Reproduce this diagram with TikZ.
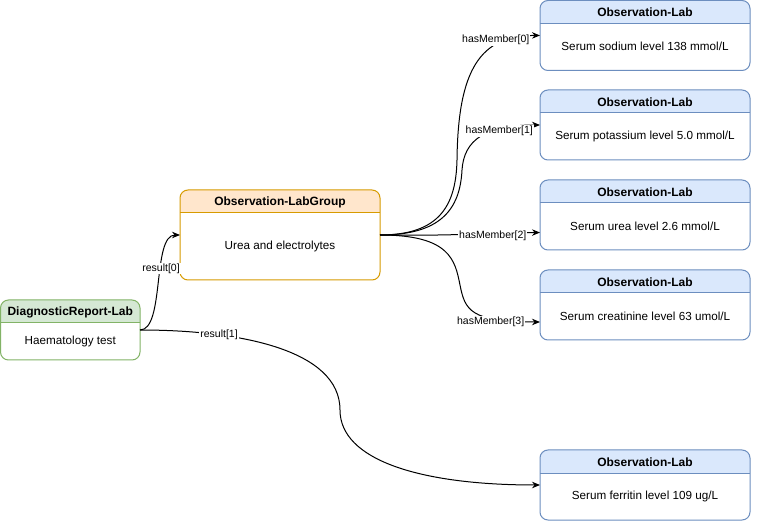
\documentclass[tikz,border=0pt]{standalone}
\usepackage{fontspec}
\setmainfont{Liberation Sans}
\usetikzlibrary{arrows.meta,calc}
\definecolor{grF}{HTML}{D5E8D4}\definecolor{grS}{HTML}{82B366}
\definecolor{orF}{HTML}{FFE6CC}\definecolor{orS}{HTML}{D79B00}
\definecolor{blF}{HTML}{DAE8FC}\definecolor{blS}{HTML}{6C8EBF}
\tikzset{
  boxframe/.style={rectangle,draw=none,inner sep=0pt,outer sep=0pt},
  titletext/.style={font=\bfseries\fontsize{12}{14}\selectfont,inner sep=0pt},
  bodytext/.style={font=\fontsize{11.7}{14}\selectfont,inner sep=0pt},
  lbl/.style={font=\fontsize{10.5}{12}\selectfont,fill=white,inner sep=1pt},
  edge/.style={line width=1pt,-{Stealth[length=8pt,width=6.5pt]}},
}
\newcommand{\labbox}[9]{%
  \node[boxframe,minimum width=#4pt,minimum height=#5pt,anchor=north west] (#1) at (#2,#3) {};
  \fill[#6] ($(#1.north west)+(0,-23pt)$) [rounded corners=8pt] -- (#1.north west) -- (#1.north east) [sharp corners] -- ($(#1.north east)+(0,-23pt)$) -- cycle;
  \draw[#7,line width=1pt] ($(#1.north west)+(0,-23pt)$) -- ($(#1.north east)+(0,-23pt)$);
  \draw[#7,line width=1pt,rounded corners=8pt] (#1.north west) rectangle (#1.south east);
  \node[titletext] (#1-t) at ($(#1.north)+(0,-12pt)$) {#8};
  \node[bodytext] (#1-b) at ($($(#1.north)!0.5!(#1.south)$)+(0,-11pt)$) {#9};
}
\begin{document}
\begin{tikzpicture}[x=1pt,y=-1pt]
\fill[white] (0,0) rectangle (761,521);
\useasboundingbox (0,0) rectangle (761,521);
\labbox{dr}{0.5}{300}{139.5}{60}{grF}{grS}{DiagnosticReport-Lab}{Haematology test}
\labbox{lg}{180}{190}{200}{90}{orF}{orS}{Observation-LabGroup}{Urea and electrolytes}
\labbox{oa}{540}{0.5}{210}{70}{blF}{blS}{Observation-Lab}{Serum sodium level 138 mmol/L}
\labbox{ob}{540}{90}{210}{70}{blF}{blS}{Observation-Lab}{Serum potassium level 5.0 mmol/L}
\labbox{oc}{540}{180}{210}{70}{blF}{blS}{Observation-Lab}{Serum urea level 2.6 mmol/L}
\labbox{od}{540}{270}{210}{70}{blF}{blS}{Observation-Lab}{Serum creatinine level 63 umol/L}
\labbox{oe}{540}{450}{210}{70}{blF}{blS}{Observation-Lab}{Serum ferritin level 109 ug/L}
\coordinate (ocin) at ($(oc.west)+(0,-17.5pt)$);
\coordinate (odin) at ($(od.west)+(0,-17pt)$);
% edges
\draw[edge] (dr.east) .. controls (165,330) and (152,235) .. (lg.west) node[lbl,pos=0.6] {result[0]};
\draw[edge] (dr.east) .. controls (240,330) and (340,350) .. (340,410) node[lbl,pos=0.27] {result[1]}
  .. controls (340,460) and (420,485) .. (oe.west);
\draw[edge] (lg.east) .. controls (440,235) and (456,205) .. (457,160)
  .. controls (458,70) and (480,35) .. (oa.west) node[lbl,pos=0.7,yshift=5pt] {hasMember[0]};
\draw[edge] (lg.east) .. controls (440,235) and (460,210) .. (462,170)
  .. controls (464,140) and (485,125) .. (ob.west) node[lbl,pos=0.7,yshift=-2pt] {hasMember[1]};
\draw[edge] (lg.east) .. controls (460,236) and (480,233) .. (ocin) node[lbl,pos=0.69,yshift=-2pt] {hasMember[2]};
\draw[edge] (lg.east) .. controls (450,235) and (455,260) .. (460,285)
  .. controls (465,310) and (470,322) .. (odin) node[lbl,pos=0.68,yshift=-4pt] {hasMember[3]};
\end{tikzpicture}
\end{document}
